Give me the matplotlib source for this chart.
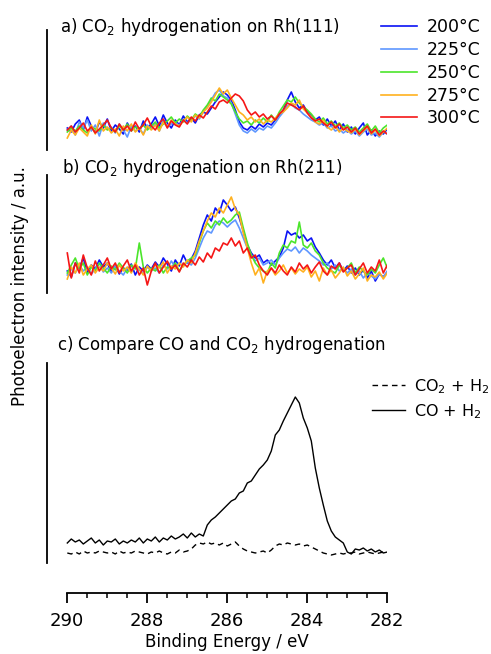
import numpy as np
import matplotlib.pyplot as plt

plt.rcParams["font.family"] = ["DejaVu Sans"]
plt.rcParams["mathtext.default"] = "regular"

W, H = 491, 654

# binding energy grid, 290 -> 282 eV
energy = np.linspace(290.0, 282.0, 81)

temperatures = ["200°C", "225°C", "250°C", "275°C", "300°C"]
colors = ["#0a12f5", "#5f97ff", "#4be52b", "#ffb11f", "#f51616"]

# a) Rh(111), intensity in arbitrary units
rh111_200 = [22, 18, 26, 30, 20, 33, 24, 17, 28, 22, 31,
             19, 25, 21, 16, 27, 20, 24, 18, 29, 22,
             26, 33, 24, 35, 27, 22, 30, 25, 34, 28,
             32, 27, 35, 38, 36, 42, 48, 53, 58, 55,
             50, 40, 28, 22, 20, 24, 21, 26, 23, 27,
             25, 30, 35, 40, 50, 58, 48, 42, 45, 38,
             34, 30, 33, 25, 31, 24, 29, 20, 26, 18,
             23, 16, 22, 27, 15, 20, 14, 19, 16, 21]
rh111_225 = [20, 24, 15, 28, 22, 30, 19, 25, 14, 27, 21,
             23, 17, 26, 20, 13, 24, 19, 22, 16, 25,
             21, 27, 19, 30, 23, 26, 28, 24, 31, 27,
             30, 34, 31, 38, 44, 50, 57, 60, 54, 52,
             47, 36, 25, 19, 17, 21, 18, 22, 20, 24,
             22, 27, 33, 38, 44, 46, 42, 40, 36, 33,
             30, 28, 25, 27, 22, 24, 19, 21, 17, 20,
             16, 19, 14, 18, 21, 15, 17, 13, 18, 16]
rh111_250 = [18, 22, 19, 24, 20, 17, 23, 21, 19, 25, 20,
             22, 18, 24, 20, 26, 19, 23, 21, 25, 20,
             24, 28, 22, 26, 29, 33, 27, 31, 28, 34,
             30, 36, 33, 40, 45, 52, 49, 56, 53, 50,
             46, 38, 31, 27, 29, 25, 30, 27, 32, 28,
             35, 30, 38, 44, 50, 48, 53, 47, 43, 40,
             36, 31, 28, 32, 26, 29, 24, 27, 22, 25,
             20, 23, 18, 22, 26, 19, 24, 17, 22, 25]
rh111_275 = [12, 20, 15, 22, 18, 14, 25, 16, 30, 19, 23,
             17, 21, 14, 24, 19, 26, 18, 22, 15, 24,
             20, 25, 19, 28, 23, 30, 26, 24, 29, 33,
             28, 35, 32, 38, 42, 48, 55, 62, 56, 60,
             52, 45, 38, 35, 30, 33, 28, 31, 26, 30,
             28, 32, 36, 38, 42, 47, 45, 50, 41, 37,
             33, 28, 26, 30, 23, 20, 24, 18, 22, 19,
             17, 21, 15, 19, 23, 16, 20, 14, 18, 22]
rh111_300 = [20, 24, 18, 22, 27, 19, 23, 17, 21, 25, 30,
             22, 18, 26, 20, 24, 19, 28, 21, 25, 32,
             24, 20, 27, 31, 22, 29, 25, 23, 30, 26,
             33, 29, 35, 32, 38, 44, 41, 48, 50, 47,
             52, 56, 54, 49, 40, 35, 38, 33, 36, 31,
             34, 30, 36, 40, 47, 45, 43, 40, 44, 37,
             32, 29, 31, 27, 24, 28, 22, 26, 20, 23,
             18, 22, 16, 20, 24, 17, 21, 15, 19, 16]

# b) Rh(211)
rh211_200 = [22, 16, 30, 25, 35, 20, 28, 24, 33, 26, 30,
             21, 27, 19, 25, 23, 29, 18, 26, 22, 28,
             24, 31, 26, 35, 29, 22, 33, 27, 38, 30,
             34, 42, 55, 68, 78, 72, 85, 80, 93, 88,
             82, 86, 75, 62, 48, 40, 35, 38, 30, 33,
             28, 32, 36, 45, 62, 58, 60, 55, 58, 52,
             55, 46, 40, 33, 28, 33, 25, 30, 22, 27,
             20, 25, 18, 23, 15, 22, 12, 19, 16, 21]
rh211_225 = [18, 24, 20, 28, 22, 26, 19, 24, 30, 21, 25,
             20, 27, 22, 18, 25, 21, 28, 23, 19, 26,
             22, 25, 20, 28, 24, 32, 26, 30, 27, 31,
             28, 35, 45, 55, 62, 60, 68, 72, 70, 66,
             70, 73, 65, 55, 45, 38, 32, 35, 28, 30,
             33, 28, 35, 40, 44, 42, 46, 40, 45, 42,
             38, 35, 32, 28, 30, 24, 28, 22, 25, 20,
             24, 18, 22, 15, 20, 17, 14, 19, 16, 22]
rh211_250 = [20, 28, 35, 24, 30, 18, 26, 22, 30, 25, 20,
             27, 23, 30, 25, 20, 28, 24, 50, 26, 20,
             25, 22, 28, 20, 26, 24, 30, 22, 28, 32,
             35, 38, 50, 62, 70, 65, 72, 68, 75, 70,
             73, 78, 81, 65, 50, 38, 30, 25, 22, 20,
             30, 25, 40, 48, 45, 52, 50, 71, 48, 45,
             50, 42, 38, 30, 25, 22, 20, 28, 22, 25,
             30, 20, 26, 22, 18, 24, 20, 28, 35, 25]
rh211_275 = [14, 26, 20, 30, 18, 24, 28, 20, 26, 22, 30,
             25, 19, 28, 22, 26, 20, 30, 24, 18, 27,
             22, 28, 25, 31, 20, 27, 24, 30, 26, 33,
             30, 40, 52, 62, 72, 80, 76, 85, 80, 88,
             96, 84, 78, 60, 45, 30, 18, 25, 10, 22,
             25, 18, 22, 28, 20, 25, 19, 24, 21, 26,
             16, 22, 12, 25, 18, 23, 15, 20, 26, 17,
             22, 14, 19, 25, 12, 18, 16, 21, 14, 20]
rh211_300 = [40, 15, 30, 20, 38, 25, 18, 32, 22, 28, 35,
             24, 30, 20, 27, 33, 22, 28, 18, 25, 8,
             22, 30, 20, 26, 32, 24, 28, 21, 30, 26,
             33, 28, 36, 31, 40, 35, 45, 42, 50, 48,
             55, 47, 52, 40, 45, 35, 38, 28, 22, 18,
             25, 20, 28, 22, 18, 26, 21, 30, 24, 28,
             20, 26, 31, 22, 18, 27, 24, 30, 21, 25,
             28, 18, 24, 30, 20, 26, 22, 33, 20, 28]

# c) CO vs CO2 hydrogenation
co_h2 = [20, 24, 21, 23, 19, 22, 25, 20, 23, 18, 22,
         21, 24, 19, 22, 20, 23, 21, 25, 20, 24,
         22, 26, 21, 25, 23, 27, 24, 26, 29, 25,
         30, 26, 29, 27, 38, 43, 46, 50, 54, 58,
         62, 64, 70, 72, 80, 82, 88, 94, 98, 103,
         112, 128, 133, 142, 150, 158, 166, 160, 145, 135,
         122, 95, 75, 58, 42, 32, 26, 23, 20, 11,
         9, 14, 13, 15, 12, 14, 11, 13, 10, 11]
co2_h2 = [10, 9, 11, 9, 12, 10, 11, 10, 12, 11, 10,
          11, 9, 12, 10, 11, 10, 12, 11, 10, 9,
          11, 10, 12, 10, 9, 11, 10, 13, 11, 12,
          14, 18, 20, 19, 21, 19, 20, 18, 20, 17,
          19, 21, 17, 14, 12, 11, 10, 11, 12, 10,
          13, 17, 19, 18, 20, 19, 18, 19, 17, 18,
          16, 14, 12, 10, 9, 8, 9, 10, 9, 10,
          10, 11, 9, 10, 11, 10, 9, 10, 11, 10]


def rect(left, top, right, bottom):
    return [left / W, 1 - bottom / H, (right - left) / W, (bottom - top) / H]


def panel(fig, top, bottom, ymax):
    ax = fig.add_axes(rect(46.5, top, 387.3, bottom))
    ax.set_xlim(290.52, 282.0)
    ax.set_ylim(0, ymax)
    for side in ["top", "right", "bottom"]:
        ax.spines[side].set_visible(False)
    ax.spines["left"].set_linewidth(1.3)
    ax.set_xticks([])
    ax.set_yticks([])
    ax.patch.set_alpha(0)
    return ax


fig = plt.figure(figsize=(W / 100, H / 100), dpi=100)

ax_a = panel(fig, 30, 150, 120)
for y, c, t in zip([rh111_200, rh111_225, rh111_250, rh111_275, rh111_300], colors, temperatures):
    ax_a.plot(energy, y, color=c, lw=1.2, label=t)
ax_a.legend(loc="upper left", bbox_to_anchor=(381 / W, 1 - 18 / H), bbox_transform=fig.transFigure,
            frameon=False, fontsize=12.5, handlelength=2.1, handletextpad=0.55,
            labelspacing=0.28, borderpad=0, borderaxespad=0)

ax_b = panel(fig, 175, 293, 118)
for y, c in zip([rh211_200, rh211_225, rh211_250, rh211_275, rh211_300], colors):
    ax_b.plot(energy, y, color=c, lw=1.2)

ax_c = panel(fig, 363, 563, 200)
ax_c.plot(energy, co2_h2, color="black", lw=1.0, ls=(0, (4, 3)), label="CO$_2$ + H$_2$")
ax_c.plot(energy, co_h2, color="black", lw=1.0, label="CO + H$_2$")
ax_c.legend(loc="upper left", bbox_to_anchor=(372 / W, 1 - 377 / H), bbox_transform=fig.transFigure,
            frameon=False, fontsize=11.5, handlelength=2.05, handletextpad=0.6,
            labelspacing=0.4, borderpad=0, borderaxespad=0)

fig.text(60 / W, 1 - 27 / H, "a) CO$_2$ hydrogenation on Rh(111)", fontsize=12, va="center")
fig.text(62 / W, 1 - 168 / H, "b) CO$_2$ hydrogenation on Rh(211)", fontsize=12, va="center")
fig.text(57 / W, 1 - 345 / H, "c) Compare CO and CO$_2$ hydrogenation", fontsize=12, va="center")
fig.text(20 / W, 1 - 286 / H, "Photoelectron intensity / a.u.", fontsize=12, rotation=90,
         ha="center", va="center")

# bottom energy axis
ax_x = fig.add_axes(rect(66.7, 560, 386.7, 593))
ax_x.set_xlim(290, 282)
ax_x.set_yticks([])
ax_x.patch.set_alpha(0)
for side in ["top", "right", "left"]:
    ax_x.spines[side].set_visible(False)
ax_x.spines["bottom"].set_linewidth(1.3)
ax_x.set_xticks([290, 288, 286, 284, 282])
ax_x.set_xticks(np.arange(282, 290.01, 0.5), minor=True)
ax_x.tick_params(which="major", direction="out", length=7, width=1.3, labelsize=13, pad=7)
ax_x.tick_params(which="minor", direction="out", length=3.5, width=1.1)
ax_x.set_xlabel("Binding Energy / eV", fontsize=12, labelpad=2)

fig.savefig("out.png", dpi=100)
